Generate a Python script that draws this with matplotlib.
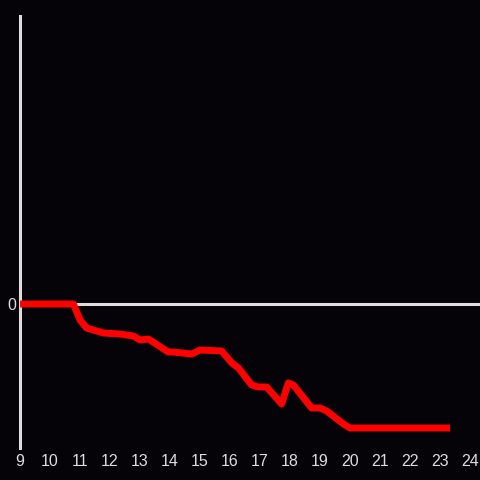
import matplotlib
matplotlib.use("Agg")
import matplotlib.pyplot as plt

# values (y in arbitrary units, 0 = baseline)
horas = [9.0, 10.78, 11.0, 11.22, 11.78, 12.33, 12.78, 13.0, 13.28, 13.94, 14.11,
         14.72, 15.0, 15.72, 16.06, 16.28, 16.72, 16.94, 17.22, 17.72, 17.94,
         18.11, 18.72, 19.0, 19.22, 19.78, 20.0, 23.33]
valores = [0.0, 0.0, -1.6, -2.4, -2.9, -3.0, -3.2, -3.6, -3.5, -4.8, -4.8,
           -5.0, -4.6, -4.7, -5.9, -6.4, -8.1, -8.3, -8.3, -10.0, -7.9,
           -8.1, -10.4, -10.4, -10.7, -12.0, -12.4, -12.4]
ticks_x = list(range(9, 25))

fondo = "#050307"
gris = "#dddddd"

plt.rcParams['font.family'] = ['Liberation Sans', 'DejaVu Sans']

fig = plt.figure(figsize=(4.8, 4.8), dpi=100, facecolor=fondo)
ax = fig.add_axes([20/480, 32/480, 460/480, 432/480], facecolor=fondo)

ax.axhline(0, color=gris, lw=2.2, zorder=1)
ax.plot(horas, valores, color="#ff0000", lw=5, solid_joinstyle="round",
        solid_capstyle="butt", zorder=3)

ax.set_xlim(9, 24.33)
ax.set_ylim(-14.4, 28.8)
ax.set_xticks(ticks_x)
ax.set_yticks([0])
ax.tick_params(length=0, colors=gris, labelsize=11.5)
ax.tick_params(axis='x', pad=4)
ax.tick_params(axis='y', pad=3)

for lado in ["top", "right", "bottom"]:
    ax.spines[lado].set_visible(False)
ax.spines["left"].set_color(gris)
ax.spines["left"].set_linewidth(2.2)

fig.savefig("out.png", dpi=100, facecolor=fondo)
